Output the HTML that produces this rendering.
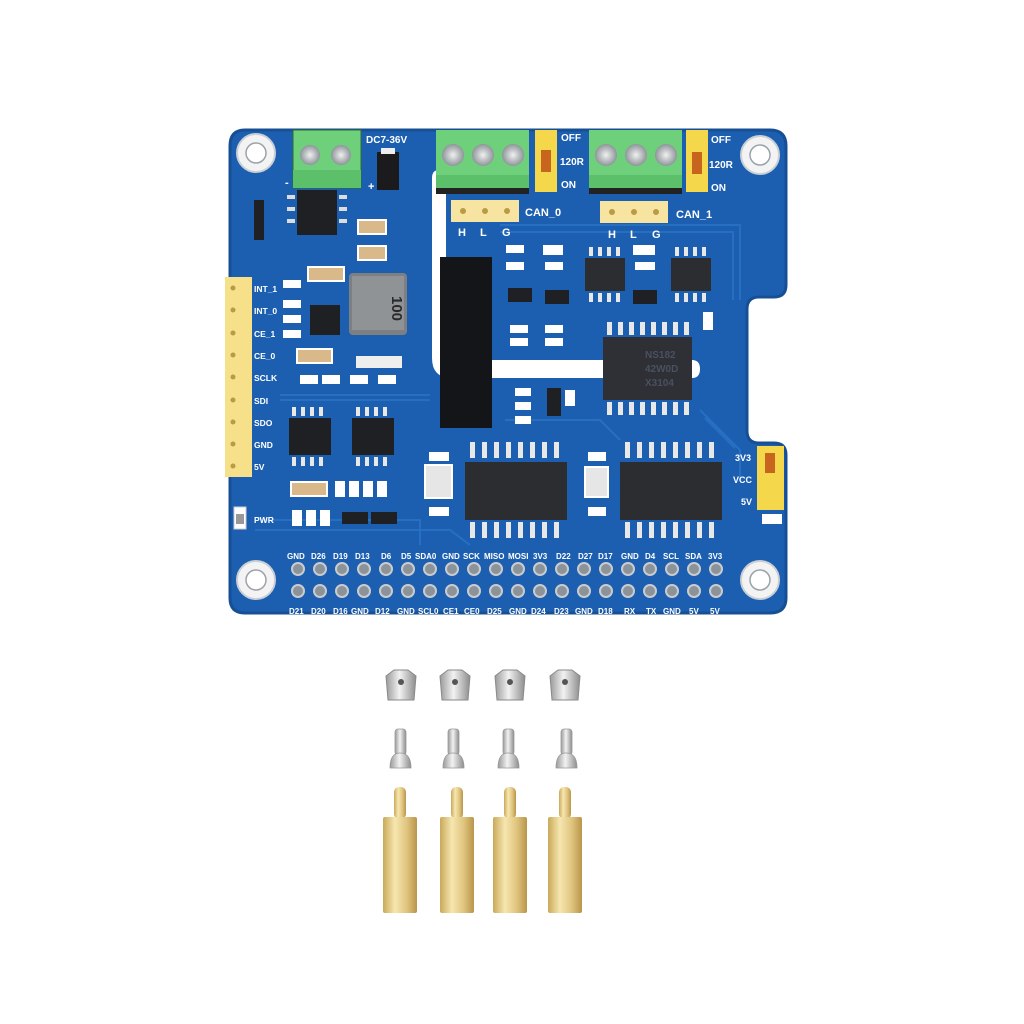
<!DOCTYPE html>
<html><head><meta charset="utf-8"><style>
html,body{margin:0;padding:0;background:#fff;}
svg{display:block}
text{font-family:"Liberation Sans",Arial,sans-serif;font-weight:bold;fill:#fff}
</style></head><body>
<svg width="1024" height="1024" viewBox="0 0 1024 1024" xmlns="http://www.w3.org/2000/svg">
<defs>
<linearGradient id="brass" x1="0" x2="1"><stop offset="0" stop-color="#c9a95a"/><stop offset="0.35" stop-color="#f6e6b0"/><stop offset="0.7" stop-color="#e0c47e"/><stop offset="1" stop-color="#b8954a"/></linearGradient>
<linearGradient id="silver" x1="0" x2="1"><stop offset="0" stop-color="#9a9a9a"/><stop offset="0.45" stop-color="#f2f2f2"/><stop offset="1" stop-color="#8d8d8d"/></linearGradient>
<radialGradient id="screw"><stop offset="0" stop-color="#f0f0f0"/><stop offset="1" stop-color="#8e959a"/></radialGradient>
</defs>
<!-- board -->
<path d="M245 130 H770 Q786 130 786 146 V285 Q786 297 774 297 H759 Q747 297 747 309 V431 Q747 443 759 443 H774 Q786 443 786 455 V598 Q786 613 770 613 H245 Q230 613 230 598 V146 Q230 130 245 130 Z" fill="#1c5fb0" stroke="#174f95" stroke-width="3"/>
<!-- traces (lighter) -->
<g stroke="#2a74c6" stroke-width="2" fill="none" opacity="0.8">
<path d="M500 225 H740 V300"/><path d="M500 232 H733 V300"/><path d="M505 420 H600 L620 440"/>
<path d="M260 520 H420 V545"/><path d="M255 530 H450 L470 545"/><path d="M700 410 L740 450 V480"/><path d="M705 418 L735 448"/>
<path d="M280 400 H430"/><path d="M280 395 H430"/>
</g>
<!-- mounting holes -->
<g fill="#f3f3f3" stroke="#c9cfd5" stroke-width="2">
<circle cx="256" cy="153" r="19"/><circle cx="760" cy="155" r="19"/><circle cx="256" cy="580" r="19"/><circle cx="760" cy="580" r="19"/>
</g>
<g fill="#fff" stroke="#9aa3ab" stroke-width="1.5">
<circle cx="256" cy="153" r="10"/><circle cx="760" cy="155" r="10"/><circle cx="256" cy="580" r="10"/><circle cx="760" cy="580" r="10"/>
</g>
<!-- slot -->
<path d="M432 178 Q432 170 439 170 Q446 170 446 178 V350 Q446 360 456 360 H692 Q700 360 700 369 Q700 378 692 378 H452 Q432 378 432 358 Z" fill="#fff"/>
<!-- black isolation block -->
<rect x="440" y="257" width="52" height="171" fill="#141518"/>
<!-- DC terminal -->
<rect x="293" y="130" width="68" height="58" fill="#6fd07c" stroke="#2c6b35" stroke-width="1"/>
<rect x="293" y="170" width="68" height="18" fill="#5cbf69"/>
<circle cx="310" cy="155" r="10" fill="url(#screw)"/><circle cx="341" cy="155" r="10" fill="url(#screw)"/>
<text x="366" y="143" font-size="10">DC7-36V</text>
<text x="368" y="190" font-size="11">+</text><text x="285" y="186" font-size="11">-</text>
<rect x="377" y="152" width="22" height="38" fill="#1b1b1d"/><rect x="381" y="148" width="14" height="6" fill="#eee"/>
<!-- CAN terminals -->
<rect x="436" y="130" width="93" height="62" fill="#6fd07c"/><rect x="436" y="175" width="93" height="17" fill="#5cbf69"/>
<rect x="436" y="188" width="93" height="6" fill="#222"/>
<circle cx="453" cy="155" r="11" fill="url(#screw)"/><circle cx="483" cy="155" r="11" fill="url(#screw)"/><circle cx="513" cy="155" r="11" fill="url(#screw)"/>
<rect x="589" y="130" width="93" height="62" fill="#6fd07c"/><rect x="589" y="175" width="93" height="17" fill="#5cbf69"/>
<rect x="589" y="188" width="93" height="6" fill="#222"/>
<circle cx="606" cy="155" r="11" fill="url(#screw)"/><circle cx="636" cy="155" r="11" fill="url(#screw)"/><circle cx="666" cy="155" r="11" fill="url(#screw)"/>
<!-- jumpers -->
<rect x="535" y="130" width="22" height="62" fill="#f4d74a"/><rect x="541" y="150" width="10" height="22" fill="#c7641d"/>
<rect x="686" y="130" width="22" height="62" fill="#f4d74a"/><rect x="692" y="152" width="10" height="22" fill="#c7641d"/>
<g font-size="10"><text x="561" y="141">OFF</text><text x="560" y="165">120R</text><text x="561" y="188">ON</text>
<text x="711" y="143">OFF</text><text x="709" y="168">120R</text><text x="711" y="191">ON</text></g>
<!-- CAN headers -->
<rect x="451" y="200" width="68" height="22" fill="#f6e4a0"/>
<rect x="600" y="201" width="68" height="22" fill="#f6e4a0"/>
<g fill="#b99a45"><circle cx="463" cy="211" r="3"/><circle cx="485" cy="211" r="3"/><circle cx="507" cy="211" r="3"/>
<circle cx="612" cy="212" r="3"/><circle cx="634" cy="212" r="3"/><circle cx="656" cy="212" r="3"/></g>
<g font-size="11"><text x="525" y="216">CAN_0</text><text x="676" y="218">CAN_1</text>
<text x="458" y="236">H</text><text x="480" y="236">L</text><text x="502" y="236">G</text>
<text x="608" y="238">H</text><text x="630" y="238">L</text><text x="652" y="238">G</text></g>
<!-- left header -->
<rect x="225" y="277" width="27" height="200" fill="#f6e08a"/>
<g fill="#b99a45"><circle cx="233" cy="288" r="2.5"/><circle cx="233" cy="310" r="2.5"/><circle cx="233" cy="333" r="2.5"/><circle cx="233" cy="355" r="2.5"/><circle cx="233" cy="377" r="2.5"/><circle cx="233" cy="400" r="2.5"/><circle cx="233" cy="422" r="2.5"/><circle cx="233" cy="444" r="2.5"/><circle cx="233" cy="466" r="2.5"/></g>
<g font-size="8.5"><text x="254" y="292">INT_1</text><text x="254" y="314">INT_0</text><text x="254" y="337">CE_1</text><text x="254" y="359">CE_0</text><text x="254" y="381">SCLK</text><text x="254" y="404">SDI</text><text x="254" y="426">SDO</text><text x="254" y="448">GND</text><text x="254" y="470">5V</text>
<text x="254" y="523">PWR</text></g>
<rect x="234" y="507" width="12" height="22" fill="#fff" stroke="#ccc"/><rect x="236" y="514" width="8" height="10" fill="#999"/>
<!-- inductor -->
<rect x="349" y="273" width="58" height="62" rx="4" fill="#7d7f82"/><rect x="352" y="276" width="52" height="54" fill="#909396"/>
<text x="370" y="288" font-size="15" fill="#2a2a2a" style="fill:#2a2a2a" transform="rotate(90 377 303)">100</text>
<!-- QFN -->
<rect x="310" y="305" width="30" height="30" fill="#1e2024"/>
<!-- SOIC top-left -->
<rect x="297" y="190" width="40" height="45" fill="#1e2024"/>
<g fill="#dcdcdc"><rect x="287" y="195" width="8" height="4"/><rect x="287" y="207" width="8" height="4"/><rect x="287" y="219" width="8" height="4"/><rect x="339" y="195" width="8" height="4"/><rect x="339" y="207" width="8" height="4"/><rect x="339" y="219" width="8" height="4"/></g>
<rect x="254" y="200" width="10" height="40" fill="#1e2024"/>
<!-- capacitors tan -->
<g fill="#d9b88a" stroke="#fff" stroke-width="2"><rect x="358" y="220" width="28" height="14"/><rect x="358" y="246" width="28" height="14"/><rect x="308" y="267" width="36" height="14"/><rect x="297" y="349" width="35" height="14"/><rect x="291" y="482" width="36" height="14"/></g>
<!-- SOIC8 left -->
<rect x="289" y="418" width="42" height="37" fill="#1e2024"/><rect x="352" y="418" width="42" height="37" fill="#1e2024"/>
<g fill="#e8e8e8">
<rect x="292" y="407" width="4" height="9"/><rect x="301" y="407" width="4" height="9"/><rect x="310" y="407" width="4" height="9"/><rect x="319" y="407" width="4" height="9"/>
<rect x="292" y="457" width="4" height="9"/><rect x="301" y="457" width="4" height="9"/><rect x="310" y="457" width="4" height="9"/><rect x="319" y="457" width="4" height="9"/>
<rect x="356" y="407" width="4" height="9"/><rect x="365" y="407" width="4" height="9"/><rect x="374" y="407" width="4" height="9"/><rect x="383" y="407" width="4" height="9"/>
<rect x="356" y="457" width="4" height="9"/><rect x="365" y="457" width="4" height="9"/><rect x="374" y="457" width="4" height="9"/><rect x="383" y="457" width="4" height="9"/>
</g>
<!-- small resistors -->
<g fill="#fff"><rect x="335" y="481" width="10" height="16"/><rect x="349" y="481" width="10" height="16"/><rect x="363" y="481" width="10" height="16"/><rect x="377" y="481" width="10" height="16"/>
<rect x="292" y="510" width="10" height="16"/><rect x="306" y="510" width="10" height="16"/><rect x="320" y="510" width="10" height="16"/>
<rect x="283" y="300" width="18" height="8"/><rect x="283" y="315" width="18" height="8"/><rect x="283" y="330" width="18" height="8"/><rect x="283" y="280" width="18" height="8"/>
<rect x="300" y="375" width="18" height="9"/><rect x="322" y="375" width="18" height="9"/><rect x="350" y="375" width="18" height="9"/><rect x="378" y="375" width="18" height="9"/>
<rect x="506" y="245" width="18" height="8"/><rect x="506" y="262" width="18" height="8"/><rect x="543" y="245" width="20" height="10"/><rect x="545" y="262" width="18" height="8"/><rect x="633" y="245" width="22" height="10"/><rect x="635" y="262" width="20" height="8"/>
<rect x="510" y="325" width="18" height="8"/><rect x="510" y="338" width="18" height="8"/><rect x="545" y="325" width="18" height="8"/><rect x="545" y="338" width="18" height="8"/>
<rect x="515" y="388" width="16" height="8"/><rect x="515" y="402" width="16" height="8"/><rect x="515" y="416" width="16" height="8"/><rect x="565" y="390" width="10" height="16"/>
<rect x="429" y="452" width="20" height="9"/><rect x="429" y="507" width="20" height="9"/><rect x="588" y="452" width="18" height="9"/><rect x="588" y="507" width="18" height="9"/>
<rect x="762" y="514" width="20" height="10"/><rect x="703" y="312" width="10" height="18"/>
</g>
<!-- SOT23 -->
<g fill="#1e2024"><rect x="508" y="288" width="24" height="14"/><rect x="545" y="290" width="24" height="14"/><rect x="633" y="290" width="24" height="14"/><rect x="342" y="512" width="26" height="12"/><rect x="371" y="512" width="26" height="12"/><rect x="547" y="388" width="14" height="28"/><rect x="356" y="356" width="46" height="12" fill="#eee"/></g>
<!-- SOIC8 right -->
<rect x="585" y="258" width="40" height="33" fill="#2b2d31"/><rect x="671" y="258" width="40" height="33" fill="#2b2d31"/>
<g fill="#e8e8e8">
<rect x="589" y="247" width="4" height="9"/><rect x="598" y="247" width="4" height="9"/><rect x="607" y="247" width="4" height="9"/><rect x="616" y="247" width="4" height="9"/>
<rect x="589" y="293" width="4" height="9"/><rect x="598" y="293" width="4" height="9"/><rect x="607" y="293" width="4" height="9"/><rect x="616" y="293" width="4" height="9"/>
<rect x="675" y="247" width="4" height="9"/><rect x="684" y="247" width="4" height="9"/><rect x="693" y="247" width="4" height="9"/><rect x="702" y="247" width="4" height="9"/>
<rect x="675" y="293" width="4" height="9"/><rect x="684" y="293" width="4" height="9"/><rect x="693" y="293" width="4" height="9"/><rect x="702" y="293" width="4" height="9"/>
</g>
<!-- NSi chip -->
<rect x="603" y="337" width="89" height="63" fill="#2e3035"/>
<g fill="#e8e8e8" id="p16">
<rect x="607" y="322" width="5" height="13"/><rect x="618" y="322" width="5" height="13"/><rect x="629" y="322" width="5" height="13"/><rect x="640" y="322" width="5" height="13"/><rect x="651" y="322" width="5" height="13"/><rect x="662" y="322" width="5" height="13"/><rect x="673" y="322" width="5" height="13"/><rect x="684" y="322" width="5" height="13"/>
<rect x="607" y="402" width="5" height="13"/><rect x="618" y="402" width="5" height="13"/><rect x="629" y="402" width="5" height="13"/><rect x="640" y="402" width="5" height="13"/><rect x="651" y="402" width="5" height="13"/><rect x="662" y="402" width="5" height="13"/><rect x="673" y="402" width="5" height="13"/><rect x="684" y="402" width="5" height="13"/>
</g>
<g font-size="10" style="fill:#4a5060" fill="#4a5060"><text x="645" y="358" style="fill:#4a5060">NS182</text><text x="645" y="372" style="fill:#4a5060">42W0D</text><text x="645" y="386" style="fill:#4a5060">X3104</text></g>
<!-- MCP chips -->
<rect x="465" y="462" width="102" height="58" fill="#2b2d31"/><rect x="620" y="462" width="102" height="58" fill="#2b2d31"/>
<g fill="#e8e8e8">
<rect x="470" y="442" width="5" height="16"/><rect x="482" y="442" width="5" height="16"/><rect x="494" y="442" width="5" height="16"/><rect x="506" y="442" width="5" height="16"/><rect x="518" y="442" width="5" height="16"/><rect x="530" y="442" width="5" height="16"/><rect x="542" y="442" width="5" height="16"/><rect x="554" y="442" width="5" height="16"/>
<rect x="470" y="522" width="5" height="16"/><rect x="482" y="522" width="5" height="16"/><rect x="494" y="522" width="5" height="16"/><rect x="506" y="522" width="5" height="16"/><rect x="518" y="522" width="5" height="16"/><rect x="530" y="522" width="5" height="16"/><rect x="542" y="522" width="5" height="16"/><rect x="554" y="522" width="5" height="16"/>
<rect x="625" y="442" width="5" height="16"/><rect x="637" y="442" width="5" height="16"/><rect x="649" y="442" width="5" height="16"/><rect x="661" y="442" width="5" height="16"/><rect x="673" y="442" width="5" height="16"/><rect x="685" y="442" width="5" height="16"/><rect x="697" y="442" width="5" height="16"/><rect x="709" y="442" width="5" height="16"/>
<rect x="625" y="522" width="5" height="16"/><rect x="637" y="522" width="5" height="16"/><rect x="649" y="522" width="5" height="16"/><rect x="661" y="522" width="5" height="16"/><rect x="673" y="522" width="5" height="16"/><rect x="685" y="522" width="5" height="16"/><rect x="697" y="522" width="5" height="16"/><rect x="709" y="522" width="5" height="16"/>
</g>
<!-- oscillators -->
<rect x="425" y="465" width="27" height="33" fill="#e6e6e6" stroke="#fff" stroke-width="2"/><rect x="585" y="467" width="23" height="30" fill="#e6e6e6" stroke="#fff" stroke-width="2"/>
<!-- right jumper -->
<rect x="757" y="446" width="27" height="64" fill="#f4d74a"/><rect x="765" y="453" width="10" height="20" fill="#c7641d"/>
<g font-size="9"><text x="735" y="461">3V3</text><text x="733" y="483">VCC</text><text x="741" y="505">5V</text></g>
<!-- GPIO header -->
<g font-size="8">
<text x="287" y="559">GND</text><text x="311" y="559">D26</text><text x="333" y="559">D19</text><text x="355" y="559">D13</text><text x="381" y="559">D6</text><text x="401" y="559">D5</text><text x="415" y="559">SDA0</text><text x="442" y="559">GND</text><text x="463" y="559">SCK</text><text x="484" y="559">MISO</text><text x="508" y="559">MOSI</text><text x="533" y="559">3V3</text><text x="556" y="559">D22</text><text x="578" y="559">D27</text><text x="598" y="559">D17</text><text x="621" y="559">GND</text><text x="645" y="559">D4</text><text x="663" y="559">SCL</text><text x="685" y="559">SDA</text><text x="708" y="559">3V3</text>
<text x="289" y="614">D21</text><text x="311" y="614">D20</text><text x="333" y="614">D16</text><text x="351" y="614">GND</text><text x="375" y="614">D12</text><text x="397" y="614">GND</text><text x="418" y="614">SCL0</text><text x="443" y="614">CE1</text><text x="464" y="614">CE0</text><text x="487" y="614">D25</text><text x="509" y="614">GND</text><text x="531" y="614">D24</text><text x="554" y="614">D23</text><text x="575" y="614">GND</text><text x="598" y="614">D18</text><text x="624" y="614">RX</text><text x="646" y="614">TX</text><text x="663" y="614">GND</text><text x="689" y="614">5V</text><text x="710" y="614">5V</text>
</g>
<g fill="#8b9298" stroke="#c8ccd0" stroke-width="2">
<circle cx="298" cy="569" r="6"/><circle cx="320" cy="569" r="6"/><circle cx="342" cy="569" r="6"/><circle cx="364" cy="569" r="6"/><circle cx="386" cy="569" r="6"/><circle cx="408" cy="569" r="6"/><circle cx="430" cy="569" r="6"/><circle cx="452" cy="569" r="6"/><circle cx="474" cy="569" r="6"/><circle cx="496" cy="569" r="6"/><circle cx="518" cy="569" r="6"/><circle cx="540" cy="569" r="6"/><circle cx="562" cy="569" r="6"/><circle cx="584" cy="569" r="6"/><circle cx="606" cy="569" r="6"/><circle cx="628" cy="569" r="6"/><circle cx="650" cy="569" r="6"/><circle cx="672" cy="569" r="6"/><circle cx="694" cy="569" r="6"/><circle cx="716" cy="569" r="6"/>
<circle cx="298" cy="591" r="6"/><circle cx="320" cy="591" r="6"/><circle cx="342" cy="591" r="6"/><circle cx="364" cy="591" r="6"/><circle cx="386" cy="591" r="6"/><circle cx="408" cy="591" r="6"/><circle cx="430" cy="591" r="6"/><circle cx="452" cy="591" r="6"/><circle cx="474" cy="591" r="6"/><circle cx="496" cy="591" r="6"/><circle cx="518" cy="591" r="6"/><circle cx="540" cy="591" r="6"/><circle cx="562" cy="591" r="6"/><circle cx="584" cy="591" r="6"/><circle cx="606" cy="591" r="6"/><circle cx="628" cy="591" r="6"/><circle cx="650" cy="591" r="6"/><circle cx="672" cy="591" r="6"/><circle cx="694" cy="591" r="6"/><circle cx="716" cy="591" r="6"/>
</g>
<!-- hardware: nuts -->
<g fill="url(#silver)" stroke="#8a8a8a" stroke-width="1">
<polygon points="386,676 394,670 408,670 416,676 414,700 388,700"/>
<polygon points="440,676 448,670 462,670 470,676 468,700 442,700"/>
<polygon points="495,676 503,670 517,670 525,676 523,700 497,700"/>
<polygon points="550,676 558,670 572,670 580,676 578,700 552,700"/>
</g>
<g fill="#555"><circle cx="401" cy="682" r="3"/><circle cx="455" cy="682" r="3"/><circle cx="510" cy="682" r="3"/><circle cx="565" cy="682" r="3"/></g>
<!-- screws -->
<g fill="url(#silver)" stroke="#999" stroke-width="0.8">
<rect x="395" y="729" width="11" height="26" rx="3"/><path d="M390 768 Q390 753 400 753 Q411 753 411 768 Z"/>
<rect x="448" y="729" width="11" height="26" rx="3"/><path d="M443 768 Q443 753 453 753 Q464 753 464 768 Z"/>
<rect x="503" y="729" width="11" height="26" rx="3"/><path d="M498 768 Q498 753 508 753 Q519 753 519 768 Z"/>
<rect x="561" y="729" width="11" height="26" rx="3"/><path d="M556 768 Q556 753 566 753 Q577 753 577 768 Z"/>
</g>
<!-- standoffs -->
<g fill="url(#brass)">
<rect x="394" y="787" width="12" height="32" rx="5"/><rect x="383" y="817" width="34" height="96" rx="2"/>
<rect x="451" y="787" width="12" height="32" rx="5"/><rect x="440" y="817" width="34" height="96" rx="2"/>
<rect x="504" y="787" width="12" height="32" rx="5"/><rect x="493" y="817" width="34" height="96" rx="2"/>
<rect x="559" y="787" width="12" height="32" rx="5"/><rect x="548" y="817" width="34" height="96" rx="2"/>
</g>
</svg>
</body></html>
